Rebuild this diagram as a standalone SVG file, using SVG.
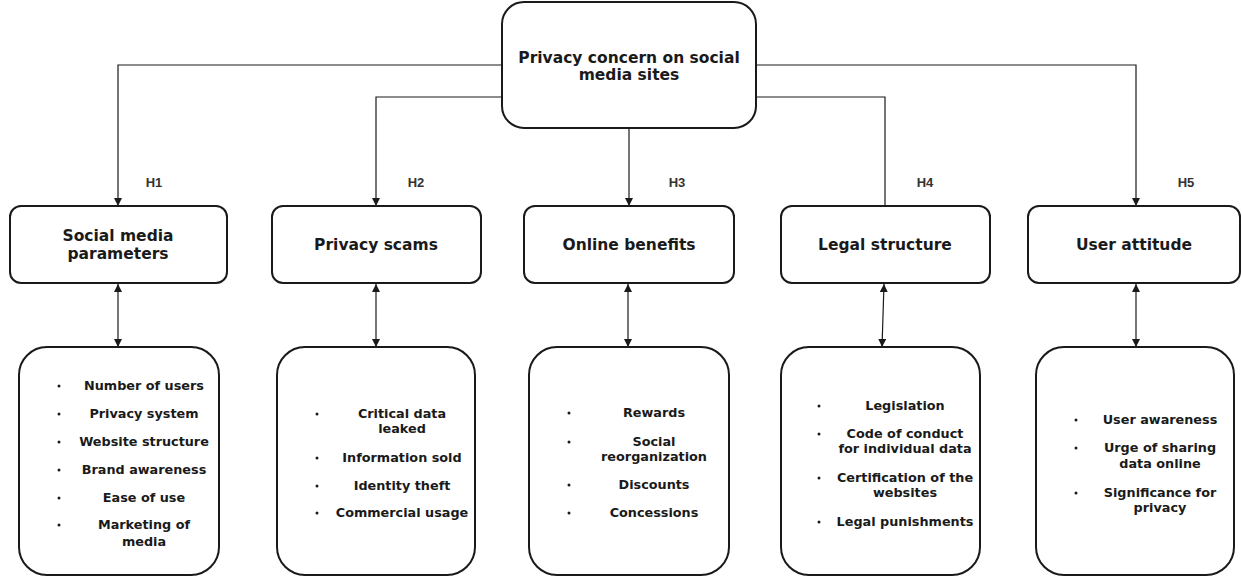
<svg xmlns="http://www.w3.org/2000/svg" width="1242" height="577" viewBox="0 0 1242 577">
<style>
.box{fill:#fff;stroke:#1a1a1a;stroke-width:2}
.ln{fill:none;stroke:#1a1a1a;stroke-width:1.2}
.t{font-family:"DejaVu Sans",Verdana,sans-serif;font-weight:bold;fill:#1a1a1a;text-anchor:middle}
.title{font-size:15.5px}
.mid{font-size:15.5px}
.li{font-size:12.8px}
.h{font-family:"Liberation Sans",Arial,sans-serif;font-weight:bold;font-size:13px;fill:#333}
.dot{fill:#1a1a1a}
</style>
<defs>
<marker id="ah" viewBox="0 0 10 10" refX="10" refY="5" markerWidth="8" markerHeight="8" markerUnits="userSpaceOnUse" orient="auto-start-reverse">
<path d="M0,0 L10,5 L0,10 z" fill="#1a1a1a"/>
</marker>
</defs>
<rect width="1242" height="577" fill="#fff"/>
<g id="connectors">
<path class="ln" d="M502,65 H118 V206" marker-end="url(#ah)"/>
<path class="ln" d="M502,97 H376 V206" marker-end="url(#ah)"/>
<path class="ln" d="M629,128 V206" marker-end="url(#ah)"/>
<path class="ln" d="M756,97 H885 V206"/>
<path class="ln" d="M756,65 H1136 V206" marker-end="url(#ah)"/>
<path class="ln" d="M118,284 V347" marker-start="url(#ah)" marker-end="url(#ah)"/>
<path class="ln" d="M376,284 V347" marker-start="url(#ah)" marker-end="url(#ah)"/>
<path class="ln" d="M628,284 V347" marker-start="url(#ah)" marker-end="url(#ah)"/>
<path class="ln" d="M884,284 L882,347" marker-start="url(#ah)" marker-end="url(#ah)"/>
<path class="ln" d="M1136,284 V347" marker-start="url(#ah)" marker-end="url(#ah)"/>
</g>
<g id="labels">
<text class="h" x="154" y="187" text-anchor="middle">H1</text>
<text class="h" x="416" y="187" text-anchor="middle">H2</text>
<text class="h" x="677" y="187" text-anchor="middle">H3</text>
<text class="h" x="925" y="187" text-anchor="middle">H4</text>
<text class="h" x="1186" y="187" text-anchor="middle">H5</text>
</g>
<g id="top">
<rect class="box" x="502" y="2" width="254" height="126" rx="22"/>
<text class="t title" x="629" y="63">Privacy concern on social</text>
<text class="t title" x="629" y="80">media sites</text>
</g>
<g id="n1">
<rect class="box" x="10" y="206" width="217" height="77" rx="11"/>
<text class="t mid" x="118" y="241">Social media</text>
<text class="t mid" x="118" y="259">parameters</text>
</g>
<g id="n2">
<rect class="box" x="272" y="206" width="209" height="77" rx="11"/>
<text class="t mid" x="376" y="250">Privacy scams</text>
</g>
<g id="n3">
<rect class="box" x="524" y="206" width="210" height="77" rx="11"/>
<text class="t mid" x="629" y="250">Online benefits</text>
</g>
<g id="n4">
<rect class="box" x="781" y="206" width="209" height="77" rx="11"/>
<text class="t mid" x="885" y="250">Legal structure</text>
</g>
<g id="n5">
<rect class="box" x="1028" y="206" width="212" height="77" rx="11"/>
<text class="t mid" x="1134" y="250">User attitude</text>
</g>
<g id="b1">
<rect class="box" x="19" y="347" width="200" height="228" rx="28"/>
<circle class="dot" cx="59" cy="386" r="1.5"/>
<circle class="dot" cx="59" cy="414" r="1.5"/>
<circle class="dot" cx="59" cy="442" r="1.5"/>
<circle class="dot" cx="59" cy="470" r="1.5"/>
<circle class="dot" cx="59" cy="498" r="1.5"/>
<circle class="dot" cx="59" cy="525" r="1.5"/>
<text class="t li" x="144" y="390">Number of users</text>
<text class="t li" x="144" y="418">Privacy system</text>
<text class="t li" x="144" y="446">Website structure</text>
<text class="t li" x="144" y="474">Brand awareness</text>
<text class="t li" x="144" y="502">Ease of use</text>
<text class="t li" x="144" y="529">Marketing of</text>
<text class="t li" x="144" y="546">media</text>
</g>
<g id="b2">
<rect class="box" x="277" y="347" width="198" height="228" rx="28"/>
<circle class="dot" cx="317" cy="414" r="1.5"/>
<circle class="dot" cx="317" cy="458" r="1.5"/>
<circle class="dot" cx="317" cy="486" r="1.5"/>
<circle class="dot" cx="317" cy="513" r="1.5"/>
<text class="t li" x="402" y="418">Critical data</text>
<text class="t li" x="402" y="433">leaked</text>
<text class="t li" x="402" y="462">Information sold</text>
<text class="t li" x="402" y="490">Identity theft</text>
<text class="t li" x="402" y="517">Commercial usage</text>
</g>
<g id="b3">
<rect class="box" x="529" y="347" width="200" height="228" rx="28"/>
<circle class="dot" cx="569" cy="413" r="1.5"/>
<circle class="dot" cx="569" cy="442" r="1.5"/>
<circle class="dot" cx="569" cy="485" r="1.5"/>
<circle class="dot" cx="569" cy="513" r="1.5"/>
<text class="t li" x="654" y="417">Rewards</text>
<text class="t li" x="654" y="446">Social</text>
<text class="t li" x="654" y="461">reorganization</text>
<text class="t li" x="654" y="489">Discounts</text>
<text class="t li" x="654" y="517">Concessions</text>
</g>
<g id="b4">
<rect class="box" x="781" y="347" width="199" height="228" rx="28"/>
<circle class="dot" cx="819" cy="406" r="1.5"/>
<circle class="dot" cx="819" cy="434" r="1.5"/>
<circle class="dot" cx="819" cy="478" r="1.5"/>
<circle class="dot" cx="819" cy="522" r="1.5"/>
<text class="t li" x="905" y="410">Legislation</text>
<text class="t li" x="905" y="438">Code of conduct</text>
<text class="t li" x="905" y="453">for individual data</text>
<text class="t li" x="905" y="482">Certification of the</text>
<text class="t li" x="905" y="497">websites</text>
<text class="t li" x="905" y="526">Legal punishments</text>
</g>
<g id="b5">
<rect class="box" x="1036" y="347" width="198" height="228" rx="28"/>
<circle class="dot" cx="1076" cy="420" r="1.5"/>
<circle class="dot" cx="1076" cy="448" r="1.5"/>
<circle class="dot" cx="1076" cy="493" r="1.5"/>
<text class="t li" x="1160" y="424">User awareness</text>
<text class="t li" x="1160" y="452">Urge of sharing</text>
<text class="t li" x="1160" y="468">data online</text>
<text class="t li" x="1160" y="497">Significance for</text>
<text class="t li" x="1160" y="512">privacy</text>
</g>
</svg>
